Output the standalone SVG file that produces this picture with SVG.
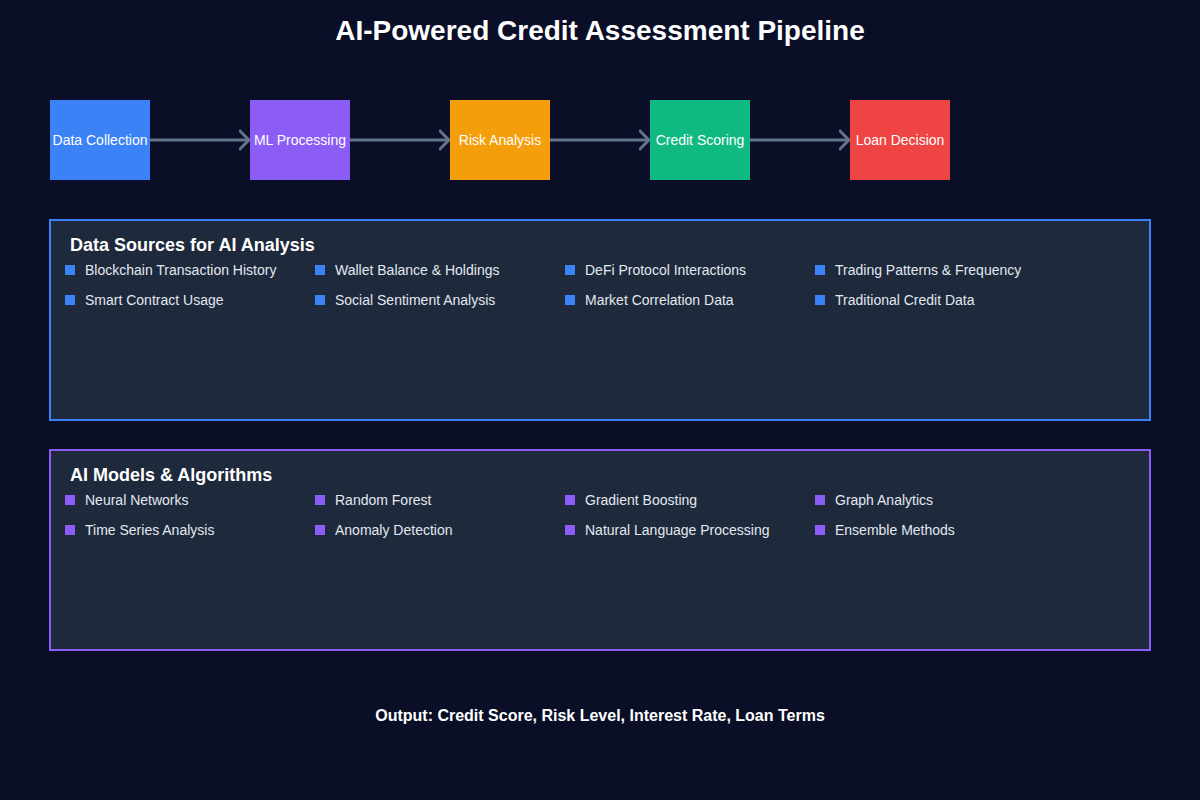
<svg xmlns="http://www.w3.org/2000/svg" width="1200" height="800" viewBox="0 0 1200 800">
<style>
text{font-family:"Liberation Sans",Arial,sans-serif}
.node{font-size:14px;fill:#ffffff;text-anchor:middle}
.title{font-size:28px;font-weight:bold;fill:#ffffff;text-anchor:middle}
.ptitle{font-size:18px;font-weight:bold;fill:#ffffff}
.item{font-size:14px;fill:#e2e8f0}
.conn{stroke:#64748b;stroke-width:3;fill:none}
.panel{fill:#1e293b;stroke-width:2}
.foot{font-size:16px;font-weight:bold;fill:#ffffff;text-anchor:middle}
</style>
<defs>
<marker id="arr" markerWidth="12" markerHeight="24" refX="10" refY="12" orient="auto" markerUnits="userSpaceOnUse">
<path d="M0,2 L10,12 L0,22" fill="none" stroke="#64748b" stroke-width="3"/>
</marker>
</defs>
<rect width="1200" height="800" fill="#0a0e27"/>
<text class="title" x="600" y="40">AI-Powered Credit Assessment Pipeline</text>
<g id="connectors">
<line class="conn" x1="150" y1="140" x2="249" y2="140" marker-end="url(#arr)"/>
<line class="conn" x1="350" y1="140" x2="449" y2="140" marker-end="url(#arr)"/>
<line class="conn" x1="550" y1="140" x2="649" y2="140" marker-end="url(#arr)"/>
<line class="conn" x1="750" y1="140" x2="849" y2="140" marker-end="url(#arr)"/>
</g>
<g id="node-data-collection"><rect x="50" y="100" width="100" height="80" fill="#3b82f6"/><text class="node" x="100" y="145">Data Collection</text></g>
<g id="node-ml-processing"><rect x="250" y="100" width="100" height="80" fill="#8b5cf6"/><text class="node" x="300" y="145">ML Processing</text></g>
<g id="node-risk-analysis"><rect x="450" y="100" width="100" height="80" fill="#f59e0b"/><text class="node" x="500" y="145">Risk Analysis</text></g>
<g id="node-credit-scoring"><rect x="650" y="100" width="100" height="80" fill="#10b981"/><text class="node" x="700" y="145">Credit Scoring</text></g>
<g id="node-loan-decision"><rect x="850" y="100" width="100" height="80" fill="#ef4444"/><text class="node" x="900" y="145">Loan Decision</text></g>
<g id="panel-data-sources">
<rect class="panel" x="50" y="220" width="1100" height="200" stroke="#3b82f6"/>
<text class="ptitle" x="70" y="251">Data Sources for AI Analysis</text>
<g fill="#3b82f6">
<rect x="65" y="265" width="10" height="10"/><rect x="315" y="265" width="10" height="10"/><rect x="565" y="265" width="10" height="10"/><rect x="815" y="265" width="10" height="10"/>
<rect x="65" y="295" width="10" height="10"/><rect x="315" y="295" width="10" height="10"/><rect x="565" y="295" width="10" height="10"/><rect x="815" y="295" width="10" height="10"/>
</g>
<text class="item" x="85" y="275">Blockchain Transaction History</text>
<text class="item" x="335" y="275">Wallet Balance &amp; Holdings</text>
<text class="item" x="585" y="275">DeFi Protocol Interactions</text>
<text class="item" x="835" y="275">Trading Patterns &amp; Frequency</text>
<text class="item" x="85" y="305">Smart Contract Usage</text>
<text class="item" x="335" y="305">Social Sentiment Analysis</text>
<text class="item" x="585" y="305">Market Correlation Data</text>
<text class="item" x="835" y="305">Traditional Credit Data</text>
</g>
<g id="panel-ai-models">
<rect class="panel" x="50" y="450" width="1100" height="200" stroke="#8b5cf6"/>
<text class="ptitle" x="70" y="481">AI Models &amp; Algorithms</text>
<g fill="#8b5cf6">
<rect x="65" y="495" width="10" height="10"/><rect x="315" y="495" width="10" height="10"/><rect x="565" y="495" width="10" height="10"/><rect x="815" y="495" width="10" height="10"/>
<rect x="65" y="525" width="10" height="10"/><rect x="315" y="525" width="10" height="10"/><rect x="565" y="525" width="10" height="10"/><rect x="815" y="525" width="10" height="10"/>
</g>
<text class="item" x="85" y="505">Neural Networks</text>
<text class="item" x="335" y="505">Random Forest</text>
<text class="item" x="585" y="505">Gradient Boosting</text>
<text class="item" x="835" y="505">Graph Analytics</text>
<text class="item" x="85" y="535">Time Series Analysis</text>
<text class="item" x="335" y="535">Anomaly Detection</text>
<text class="item" x="585" y="535">Natural Language Processing</text>
<text class="item" x="835" y="535">Ensemble Methods</text>
</g>
<text class="foot" x="600" y="721">Output: Credit Score, Risk Level, Interest Rate, Loan Terms</text>
</svg>
